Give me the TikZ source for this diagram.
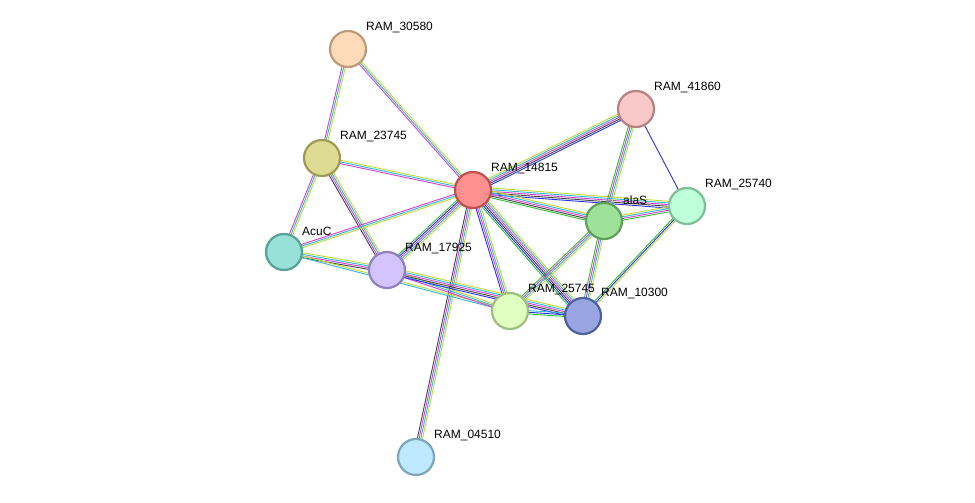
\documentclass[tikz,border=0pt]{standalone}
\usepackage{fontspec}
\setmainfont{Liberation Sans}
\usetikzlibrary{calc}
\definecolor{cM}{HTML}{D63FD6}
\definecolor{cC}{HTML}{30B8D8}
\definecolor{cY}{HTML}{C2D830}
\definecolor{cK}{HTML}{444444}
\definecolor{cB}{HTML}{2830F0}
\definecolor{cG}{HTML}{30C030}
\newcommand\sedge[4]{%
  \foreach \c [count=\i] in {#4} {%
    \pgfmathsetmacro\o{(\i-(#3+1)/2)*1.7}
    \draw[\c, line width=0.9pt] ($(#1)!\o pt!90:(#2)$) -- ($(#2)!\o pt!-90:(#1)$);
  }}
\tikzset{prot/.style={circle, minimum size=36pt, inner sep=0pt, line width=2.2pt},
  lab/.style={font=\fontsize{12}{14}\selectfont, anchor=south west, inner sep=1pt}}
\begin{document}
\begin{tikzpicture}[x=1pt,y=-1pt]
\useasboundingbox[fill=white] (0,0) rectangle (975,503);
\coordinate (p30580) at (348,49);
\coordinate (p23745) at (322,158);
\coordinate (p14815) at (473,190);
\coordinate (p41860) at (636,109);
\coordinate (p25740) at (687,206);
\coordinate (palaS) at (604,221);
\coordinate (pAcuC) at (284,252);
\coordinate (p17925) at (387,270);
\coordinate (p25745) at (510,311);
\coordinate (p10300) at (583,316);
\coordinate (p04510) at (416,457);
% edges
\sedge{p30580}{p23745}{3}{cM,cC,cY}
\sedge{p30580}{p14815}{3}{cM,cC,cY}
\sedge{p23745}{p14815}{3}{cM,cC,cY}
\sedge{p23745}{pAcuC}{3}{cM,cC,cY}
\sedge{p23745}{p17925}{4}{cK,cM,cC,cY}
\sedge{p14815}{pAcuC}{3}{cM,cC,cY}
\sedge{p14815}{p17925}{5}{cG,cB,cM,cC,cY}
\sedge{p14815}{p41860}{5}{cB,cK,cM,cC,cY}
\sedge{p14815}{p25740}{5}{cB,cK,cM,cC,cY}
\sedge{p14815}{palaS}{5}{cG,cK,cM,cC,cY}
\sedge{p14815}{p25745}{4}{cB,cM,cC,cY}
\sedge{p14815}{p10300}{6}{cG,cB,cK,cM,cC,cY}
\sedge{p14815}{p04510}{4}{cK,cM,cC,cY}
\sedge{p41860}{palaS}{4}{cG,cM,cC,cY}
\sedge{p41860}{p25740}{1}{cB}
\sedge{palaS}{p25740}{4}{cG,cM,cC,cY}
\sedge{palaS}{p25745}{4}{cG,cM,cC,cY}
\sedge{palaS}{p10300}{4}{cG,cM,cC,cY}
\sedge{p25740}{p10300}{3}{cG,cB,cY}
\sedge{pAcuC}{p17925}{4}{cK,cM,cC,cY}
\sedge{pAcuC}{p25745}{2}{cC,cY}
\sedge{p17925}{p25745}{3}{cM,cC,cY}
\sedge{p17925}{p10300}{5}{cB,cK,cM,cC,cY}
\sedge{p25745}{p10300}{3}{cG,cB,cC}
% nodes
\node[prot, fill={rgb,255:red,253;green,219;blue,184}, draw={rgb,255:red,190;green,155;blue,120}] (n30580) at (p30580) {};
\node[prot, fill={rgb,255:red,222;green,219;blue,148}, draw={rgb,255:red,158;green,155;blue,84}] (n23745) at (p23745) {};
\node[prot, fill={rgb,255:red,255;green,144;blue,144}, draw={rgb,255:red,192;green,80;blue,80}] (n14815) at (p14815) {};
\node[prot, fill={rgb,255:red,249;green,200;blue,200}, draw={rgb,255:red,185;green,130;blue,130}] (n41860) at (p41860) {};
\node[prot, fill={rgb,255:red,191;green,255;blue,218}, draw={rgb,255:red,125;green,190;blue,150}] (n25740) at (p25740) {};
\node[prot, fill={rgb,255:red,158;green,226;blue,154}, draw={rgb,255:red,94;green,160;blue,90}] (nalaS) at (palaS) {};
\node[prot, fill={rgb,255:red,151;green,224;blue,215}, draw={rgb,255:red,87;green,160;blue,150}] (nAcuC) at (pAcuC) {};
\node[prot, fill={rgb,255:red,211;green,195;blue,255}, draw={rgb,255:red,145;green,128;blue,190}] (n17925) at (p17925) {};
\node[prot, fill={rgb,255:red,225;green,255;blue,192}, draw={rgb,255:red,160;green,190;blue,128}] (n25745) at (p25745) {};
\node[prot, fill={rgb,255:red,153;green,165;blue,224}, draw={rgb,255:red,79;green,95;blue,159}] (n10300) at (p10300) {};
\node[prot, fill={rgb,255:red,191;green,233;blue,255}, draw={rgb,255:red,125;green,165;blue,190}] (n04510) at (p04510) {};
% labels
\node[lab] (l30580) at (365,34) {RAM\_30580};
\node[lab] (l23745) at (339,143) {RAM\_23745};
\node[lab] (l14815) at (490,175) {RAM\_14815};
\node[lab] (l41860) at (653,94) {RAM\_41860};
\node[lab] (l25740) at (704,191) {RAM\_25740};
\node[lab] (lalaS) at (622,206) {alaS};
\node[lab] (lAcuC) at (301,237) {AcuC};
\node[lab] (l17925) at (404,255) {RAM\_17925};
\node[lab] (l25745) at (527,296) {RAM\_25745};
\node[lab] (l10300) at (600,300) {RAM\_10300};
\node[lab] (l04510) at (433,442) {RAM\_04510};
\end{tikzpicture}
\end{document}
